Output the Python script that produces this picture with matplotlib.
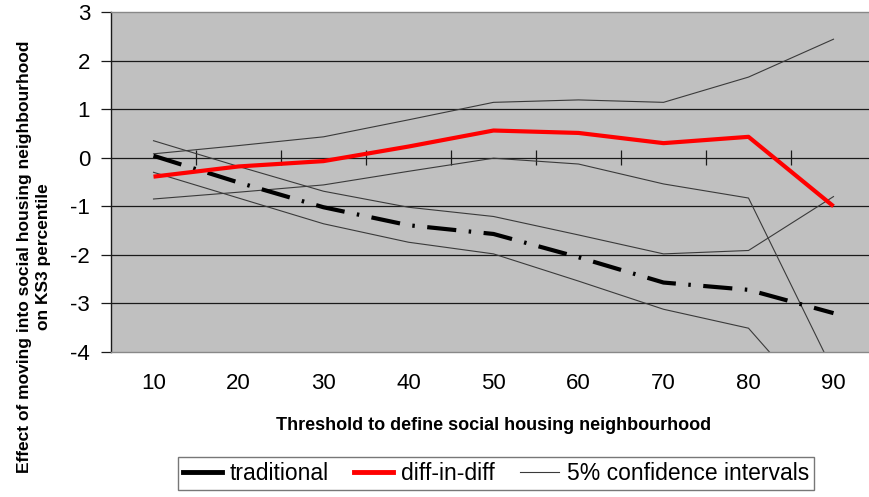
import matplotlib
matplotlib.use("Agg")
import matplotlib.pyplot as plt
from matplotlib.lines import Line2D

plt.rcParams['font.family'] = ['Liberation Sans', 'DejaVu Sans']

categories = ["10", "20", "30", "40", "50", "60", "70", "80", "90"]
traditional = [0.04, -0.51, -1.02, -1.39, -1.57, -2.05, -2.57, -2.72, -3.20]
trad_upper = [0.35, -0.18, -0.69, -1.02, -1.21, -1.59, -1.98, -1.91, -0.80]
trad_lower = [-0.30, -0.83, -1.36, -1.74, -1.98, -2.54, -3.12, -3.51, -5.50]
did = [-0.39, -0.18, -0.07, 0.23, 0.56, 0.51, 0.30, 0.43, -1.00]
did_upper = [0.08, 0.25, 0.43, 0.78, 1.14, 1.19, 1.14, 1.66, 2.44]
did_lower = [-0.85, -0.71, -0.56, -0.28, -0.01, -0.13, -0.54, -0.83, -4.40]
yticks = [3, 2, 1, 0, -1, -2, -3, -4]

W, H = 870, 497
fig = plt.figure(figsize=(W / 100, H / 100), dpi=100)
ax = fig.add_axes([111 / W, (H - 352) / H, 765 / W, 340 / H])
ax.set_facecolor('#c0c0c0')

x = list(range(1, len(categories) + 1))

for yv in yticks[1:-1]:
    ax.axhline(yv, color='#1a1a1a', lw=0.9, zorder=1)

# category axis tick marks crossing at y=0
ax.vlines([i + 0.5 for i in x[:-1]], -0.155, 0.155, color='#1a1a1a', lw=0.9, zorder=1)

ci_kw = dict(color='#3a3a3a', lw=0.8, zorder=2)
ax.plot(x, trad_upper, **ci_kw)
ax.plot(x, trad_lower, **ci_kw)
ax.plot(x, did_upper, **ci_kw)
ax.plot(x, did_lower, **ci_kw)

ax.plot(x, traditional, color='black', lw=3.0, linestyle=(0, (7, 3, 0.6, 3)),
        dash_capstyle='butt', zorder=3)
ax.plot(x, did, color='#ff0000', lw=3.0, zorder=4, solid_capstyle='butt')

ax.set_xlim(0.5, 9.5)
ax.set_ylim(-4, 3)
ax.set_yticks(yticks)
ax.set_yticklabels([str(v) if v >= 0 else '-' + str(-v) for v in yticks], fontsize=16)
ax.set_xticks(x)
ax.set_xticklabels(categories, fontsize=16)
ax.tick_params(axis='x', length=0, pad=15)
ax.tick_params(axis='y', direction='out', length=7, width=0.9, color='#1a1a1a', pad=8)

for s in ['top', 'bottom']:
    ax.spines[s].set_color('#888888')
    ax.spines[s].set_linewidth(1.0)
ax.spines['right'].set_visible(False)
ax.spines['left'].set_color('#1a1a1a')
ax.spines['left'].set_linewidth(1.0)

fig.text(494 / W, 1 - 425 / H, 'Threshold to define social housing neighbourhood',
         ha='center', va='center', fontsize=13, fontweight='bold')
fig.text(34 / W, 1 - 257 / H,
         'Effect of moving into social housing neighbourhood\non KS3 percentile',
         ha='center', va='center', rotation=90, fontsize=12.5, fontweight='bold',
         multialignment='center', linespacing=1.4)

handles = [Line2D([], [], color='black', lw=3.5),
           Line2D([], [], color='#ff0000', lw=3.5),
           Line2D([], [], color='#3a3a3a', lw=0.8)]
labels = ['traditional', 'diff-in-diff', '5% confidence intervals']
leg = fig.legend(handles, labels, loc='center', bbox_to_anchor=(496 / W, 1 - 473.5 / H),
                 ncol=3, fontsize=16.5, frameon=True, fancybox=False, edgecolor='#777777',
                 handlelength=1.7, handletextpad=0.35, columnspacing=1.1,
                 borderpad=0.2, borderaxespad=0, framealpha=1)
leg.get_frame().set_linewidth(1.0)

fig.savefig('out.png', dpi=100)
